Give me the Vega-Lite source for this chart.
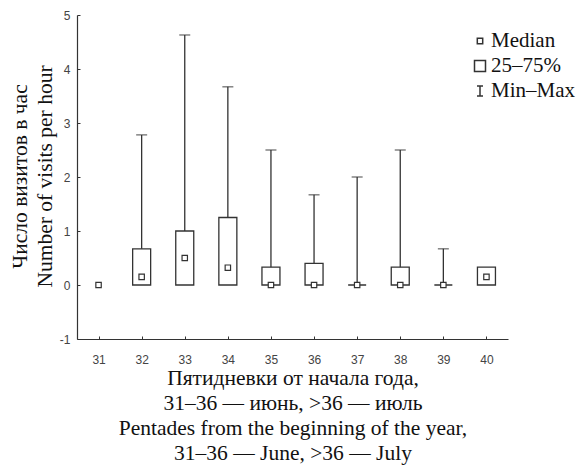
{
  "$schema": "https://vega.github.io/schema/vega-lite/v6.json",
  "width": 431,
  "height": 324,
  "autosize": {"type": "none"},
  "padding": {"left": 77, "top": 15, "right": 80, "bottom": 128},
  "background": "white",
  "config": {
    "view": {"stroke": null},
    "axis": {
      "domainColor": "#333333",
      "domainWidth": 1.2,
      "tickColor": "#333333",
      "tickWidth": 1,
      "grid": false,
      "labelFont": "Liberation Sans",
      "labelFontSize": 12,
      "labelColor": "#444444",
      "titleFont": "Liberation Serif",
      "titleFontSize": 21.5,
      "titleFontWeight": "normal",
      "titleColor": "#111111"
    }
  },
  "data": {
    "values": [
      {"pentade": "31", "min": 0, "q1": 0, "q3": 0, "median": 0, "max": 0},
      {"pentade": "32", "min": 0, "q1": 0, "q3": 0.67, "median": 0.15, "max": 2.78},
      {"pentade": "33", "min": 0, "q1": 0, "q3": 1.0, "median": 0.5, "max": 4.63},
      {"pentade": "34", "min": 0, "q1": 0, "q3": 1.25, "median": 0.32, "max": 3.67},
      {"pentade": "35", "min": 0, "q1": 0, "q3": 0.33, "median": 0, "max": 2.5},
      {"pentade": "36", "min": 0, "q1": 0, "q3": 0.4, "median": 0, "max": 1.67},
      {"pentade": "37", "min": 0, "q1": 0, "q3": 0, "median": 0, "max": 2.0},
      {"pentade": "38", "min": 0, "q1": 0, "q3": 0.33, "median": 0, "max": 2.5},
      {"pentade": "39", "min": 0, "q1": 0, "q3": 0, "median": 0, "max": 0.67},
      {"pentade": "40", "min": 0, "q1": 0, "q3": 0.33, "median": 0.15, "max": 0.33}
    ]
  },
  "encoding": {
    "x": {
      "field": "pentade",
      "type": "ordinal",
      "scale": {"type": "point", "padding": 0.5},
      "axis": {
        "labelAngle": 0,
        "tickSize": -3,
        "labelPadding": 18,
        "title": ["Пятидневки от начала года,", "31–36 — июнь, >36 — июль", "Pentades from the beginning of the year,", "31–36 — June, >36 — July"],
        "titleLineHeight": 25,
        "titlePadding": 2
      }
    }
  },
  "layer": [
    {
      "transform": [{"filter": "datum.max > datum.q3"}],
      "mark": {"type": "rule", "color": "#333333", "strokeWidth": 1.3},
      "encoding": {
        "y": {
          "field": "min",
          "type": "quantitative",
          "scale": {"domain": [-1, 5], "nice": false, "zero": false},
          "axis": {
            "values": [-1, 0, 1, 2, 3, 4, 5],
            "labelExpr": "'' + datum.value",
            "tickSize": -3,
            "labelPadding": 10,
            "title": ["Число визитов в час", "Number of visits per hour"],
            "titleLineHeight": 25,
            "titleAngle": -90,
            "titleBaseline": "middle",
            "titleAlign": "center",
            "titleX": -57,
            "titleY": 161
          }
        },
        "y2": {"field": "max"}
      }
    },
    {
      "transform": [{"filter": "datum.max > datum.q3"}],
      "mark": {"type": "tick", "color": "#333333", "thickness": 1.3, "size": 11, "orient": "horizontal"},
      "encoding": {
        "y": {"field": "max", "type": "quantitative"}
      }
    },
    {
      "transform": [{"filter": "datum.max > 0"}],
      "mark": {"type": "bar", "width": 18, "fill": "white", "stroke": "#333333", "strokeWidth": 1.3},
      "encoding": {
        "y": {"field": "q1", "type": "quantitative"},
        "y2": {"field": "q3"}
      }
    },
    {
      "mark": {"type": "point", "filled": true, "fill": "white", "stroke": "#333333", "strokeWidth": 1.2, "size": 400, "opacity": 1},
      "encoding": {
        "y": {"field": "median", "type": "quantitative"},
        "shape": {
          "datum": "Median",
          "scale": {
            "domain": ["Median", "25–75%", "Min–Max"],
            "range": ["M-0.27,-0.27H0.27V0.27H-0.27Z", "M-0.55,-0.55H0.55V0.55H-0.55Z", "M-0.3,-0.5H0.3M0,-0.5V0.5M-0.3,0.5H0.3"]
          },
          "legend": {
            "title": null,
            "orient": "none",
            "legendX": 392,
            "legendY": 15,
            "symbolSize": 400,
            "labelFont": "Liberation Serif",
            "labelFontSize": 21,
            "labelColor": "#111111",
            "labelOffset": 0,
            "rowPadding": 4,
            "encode": {
              "symbols": {
                "update": {
                  "fill": {"value": "white"},
                  "stroke": {"value": "#333333"},
                  "strokeWidth": {"value": 1.2},
                  "opacity": {"value": 1}
                }
              }
            }
          }
        }
      }
    }
  ]
}
